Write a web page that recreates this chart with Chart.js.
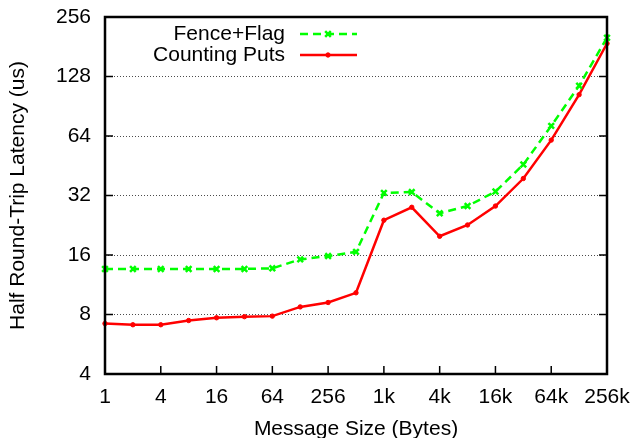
<!DOCTYPE html>
<html lang="en">
<head>
    <meta charset="UTF-8">
    <title>Half Round-Trip Latency</title>
    <script src="https://cdn.jsdelivr.net/npm/chart.js"></script>
    <style>
        body { margin: 0; background: #fff; }
    </style>
</head>
<body>
    <div style="width:632px;height:438px">
        <canvas id="latencyChart" width="632" height="438"></canvas>
    </div>

    <script>
        // Message sizes in bytes (2^0 .. 2^18)
        const sizes = [1, 2, 4, 8, 16, 32, 64, 128, 256, 512, 1024, 2048, 4096, 8192,
                       16384, 32768, 65536, 131072, 262144];
        // Latency in microseconds
        const fenceFlag = [13.6, 13.6, 13.6, 13.6, 13.6, 13.6, 13.7, 15.2, 15.8, 16.6,
                           33, 33.3, 26, 28.3, 33.5, 45.9, 72, 115, 201];
        const countingPuts = [7.2, 7.1, 7.1, 7.46, 7.7, 7.8, 7.85, 8.74, 9.2, 10.3,
                              24.0, 27.9, 19.9, 22.7, 28.3, 39, 61, 103.6, 188];

        const xTicks = [1, 4, 16, 64, 256, 1024, 4096, 16384, 65536, 262144];
        const xTickLabels = ['1', '4', '16', '64', '256', '1k', '4k', '16k', '64k', '256k'];
        const yTicks = [4, 8, 16, 32, 64, 128, 256];

        const FONT = '"Liberation Sans", Arial, sans-serif';
        const FSIZE = 21;

        // gnuplot-like frame, inward ticks and legend
        const framePlugin = {
            id: 'frame',
            afterDraw(chart) {
                const ctx = chart.ctx;
                const a = chart.chartArea;
                const xs = chart.scales.x, ys = chart.scales.y;
                ctx.save();
                ctx.strokeStyle = '#000';
                ctx.lineWidth = 1.5;
                ctx.beginPath();
                yTicks.forEach(v => {
                    const y = ys.getPixelForValue(v);
                    ctx.moveTo(a.left, y); ctx.lineTo(a.left + 8, y);
                    ctx.moveTo(a.right, y); ctx.lineTo(a.right - 8, y);
                });
                xTicks.forEach(v => {
                    const x = xs.getPixelForValue(v);
                    ctx.moveTo(x, a.bottom); ctx.lineTo(x, a.bottom - 8);
                });
                ctx.stroke();
                ctx.lineWidth = 2.5;
                ctx.strokeRect(a.left, a.top, a.right - a.left, a.bottom - a.top);

                // legend
                ctx.font = FSIZE + 'px ' + FONT;
                ctx.textAlign = 'right';
                ctx.textBaseline = 'middle';
                chart.data.datasets.forEach((ds, i) => {
                    const y = 34 + i * 21;
                    ctx.fillStyle = '#000';
                    ctx.fillText(ds.label, 285, y);
                    ctx.strokeStyle = ds.borderColor;
                    ctx.lineWidth = ds.borderWidth;
                    ctx.setLineDash(ds.borderDash || []);
                    ctx.beginPath();
                    ctx.moveTo(300, y); ctx.lineTo(357, y);
                    ctx.stroke();
                    ctx.setLineDash([]);
                    ctx.lineWidth = ds.pointBorderWidth;
                    ctx.fillStyle = ds.borderColor;
                    Chart.helpers.drawPoint(ctx, {pointStyle: ds.pointStyle, radius: ds.pointRadius, rotation: 0, borderWidth: ds.pointBorderWidth}, 328, y);
                });
                ctx.restore();
            }
        };

        new Chart(document.getElementById('latencyChart'), {
            type: 'line',
            data: {
                datasets: [{
                    label: 'Fence+Flag',
                    data: sizes.map((s, i) => ({x: s, y: fenceFlag[i]})),
                    borderColor: '#00ff00',
                    backgroundColor: '#00ff00',
                    borderWidth: 2.5,
                    borderDash: [8, 5],
                    pointStyle: 'crossRot',
                    pointRadius: 4,
                    pointBorderWidth: 2.5,
                    tension: 0,
                    clip: false
                }, {
                    label: 'Counting Puts',
                    data: sizes.map((s, i) => ({x: s, y: countingPuts[i]})),
                    borderColor: '#ff0000',
                    backgroundColor: '#ff0000',
                    borderWidth: 2.5,
                    pointStyle: 'circle',
                    pointRadius: 2.2,
                    pointBorderWidth: 1,
                    tension: 0,
                    clip: false
                }]
            },
            options: {
                responsive: false,
                animation: false,
                layout: { padding: { left: 0, right: 25, top: 17, bottom: 0 } },
                plugins: {
                    legend: { display: false },
                    tooltip: { enabled: false }
                },
                scales: {
                    x: {
                        type: 'logarithmic',
                        min: 1,
                        max: 262144,
                        afterBuildTicks: s => { s.ticks = xTicks.map(v => ({value: v})); },
                        afterFit: s => { s.height = 64; s.paddingLeft = 0; s.paddingRight = 0; },
                        ticks: {
                            autoSkip: false,
                            maxRotation: 0,
                            padding: 11,
                            color: '#000',
                            font: { family: FONT, size: FSIZE },
                            callback: v => xTickLabels[xTicks.indexOf(v)]
                        },
                        grid: { display: false, drawTicks: false },
                        border: { display: false },
                        title: {
                            display: true,
                            text: 'Message Size (Bytes)',
                            color: '#000',
                            font: { family: FONT, size: FSIZE },
                            padding: { top: 0, bottom: -4 }
                        }
                    },
                    y: {
                        type: 'logarithmic',
                        min: 4,
                        max: 256,
                        afterBuildTicks: s => { s.ticks = yTicks.map(v => ({value: v})); },
                        afterFit: s => { s.width = 105; s.paddingTop = 0; s.paddingBottom = 0; },
                        ticks: {
                            padding: 14,
                            color: '#000',
                            font: { family: FONT, size: FSIZE },
                            callback: v => String(v)
                        },
                        grid: {
                            drawTicks: false,
                            lineWidth: 1,
                            color: ctx => (ctx.tick && (ctx.tick.value === 4 || ctx.tick.value === 256)) ? 'rgba(0,0,0,0)' : 'rgba(0,0,0,0.7)'
                        },
                        border: { display: false, dash: [1, 2] },
                        title: {
                            display: true,
                            text: 'Half Round-Trip Latency (us)',
                            color: '#000',
                            font: { family: FONT, size: FSIZE },
                            padding: { top: 6, bottom: 0 }
                        }
                    }
                }
            },
            plugins: [framePlugin]
        });
    </script>
</body>
</html>
